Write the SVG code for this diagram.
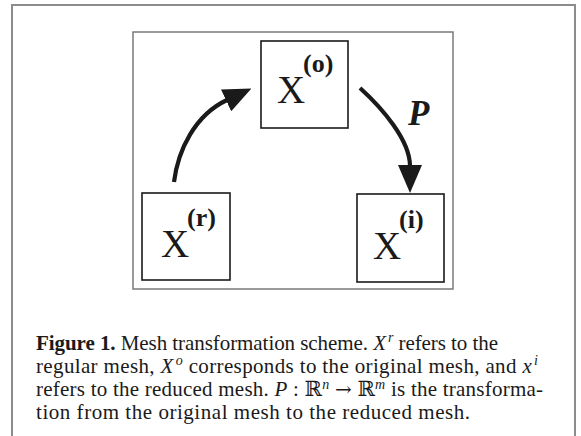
<svg xmlns="http://www.w3.org/2000/svg" width="581" height="436" viewBox="0 0 581 436">
  <defs>
    <style>
      .frame { fill: none; stroke: #8c8c8c; stroke-width: 2; }
      .inner { fill: none; stroke: #7a7a7a; stroke-width: 1.5; }
      .node rect { fill: #ffffff; stroke: #1a1a1a; stroke-width: 1.6; }
      .main { font-family: "Liberation Serif", "Times New Roman", serif; font-size: 39px; fill: #1a1a1a; }
      .sup { font-family: "Liberation Serif", "Times New Roman", serif; font-size: 26px; font-weight: bold; fill: #1a1a1a; }
      .lbl { font-family: "Liberation Serif", "Times New Roman", serif; font-size: 35px; font-weight: bold; font-style: italic; fill: #1a1a1a; }
      .arrow { fill: none; stroke: #1a1a1a; stroke-width: 4.2; }
      .cap { font-family: "Liberation Serif", "DejaVu Serif", serif; font-size: 21px; fill: #1a1a1a; }
      .b { font-weight: bold; }
      .i { font-style: italic; }
      .s { font-size: 14px; }
      .ar { font-family: "DejaVu Serif", serif; font-size: 20px; }
    </style>
    <marker id="head" markerUnits="userSpaceOnUse" markerWidth="28" markerHeight="24" viewBox="0 0 28 24" refX="1" refY="12" orient="auto">
      <path d="M0,0 L28,12 L0,24 Z" fill="#1a1a1a"/>
    </marker>
  </defs>

  <rect width="581" height="436" fill="#ffffff"/>
  <path class="frame" d="M12,436 V5 H575 V436"/>
  <rect class="inner" x="133" y="32" width="320" height="257"/>

  <g id="connectors">
    <path class="arrow" d="M174,182 C178,150 195,115 227,100" marker-end="url(#head)"/>
    <path class="arrow" d="M360,88 C382,108 410,140 410,166" marker-end="url(#head)"/>
    <text class="lbl" x="408" y="125">P</text>
  </g>

  <g id="node-o" class="node">
    <rect x="261" y="41" width="87" height="87"/>
    <text class="main" x="277" y="103">X</text>
    <text class="sup" x="303" y="72">(o)</text>
  </g>
  <g id="node-r" class="node">
    <rect x="142" y="193" width="88" height="87"/>
    <text class="main" x="161" y="257">X</text>
    <text class="sup" x="187" y="226">(r)</text>
  </g>
  <g id="node-i" class="node">
    <rect x="357" y="194" width="87" height="88"/>
    <text class="main" x="373" y="259">X</text>
    <text class="sup" x="399" y="228">(i)</text>
  </g>

  <g id="caption" class="cap">
    <text x="36" y="350" textLength="462"><tspan class="b">Figure 1.</tspan> Mesh transformation scheme. <tspan class="i">X</tspan><tspan class="i s" dx="2" dy="-8">r</tspan><tspan dy="8"> refers to the</tspan></text>
    <text x="36" y="373" textLength="502">regular mesh, <tspan class="i">X</tspan><tspan class="i s" dx="2" dy="-8">o</tspan><tspan dy="8"> corresponds to the original mesh, and </tspan><tspan class="i">x</tspan><tspan class="i s" dx="2" dy="-8">i</tspan></text>
    <text x="36" y="396" textLength="507">refers to the reduced mesh.  <tspan class="i">P</tspan> : ℝ<tspan class="i s" dy="-7">n</tspan><tspan dy="7"> </tspan><tspan class="ar">→</tspan> ℝ<tspan class="i s" dy="-7">m</tspan><tspan dy="7"> is the transforma-</tspan></text>
    <text x="36" y="419" textLength="434">tion from the original mesh to the reduced mesh.</text>
  </g>
</svg>
